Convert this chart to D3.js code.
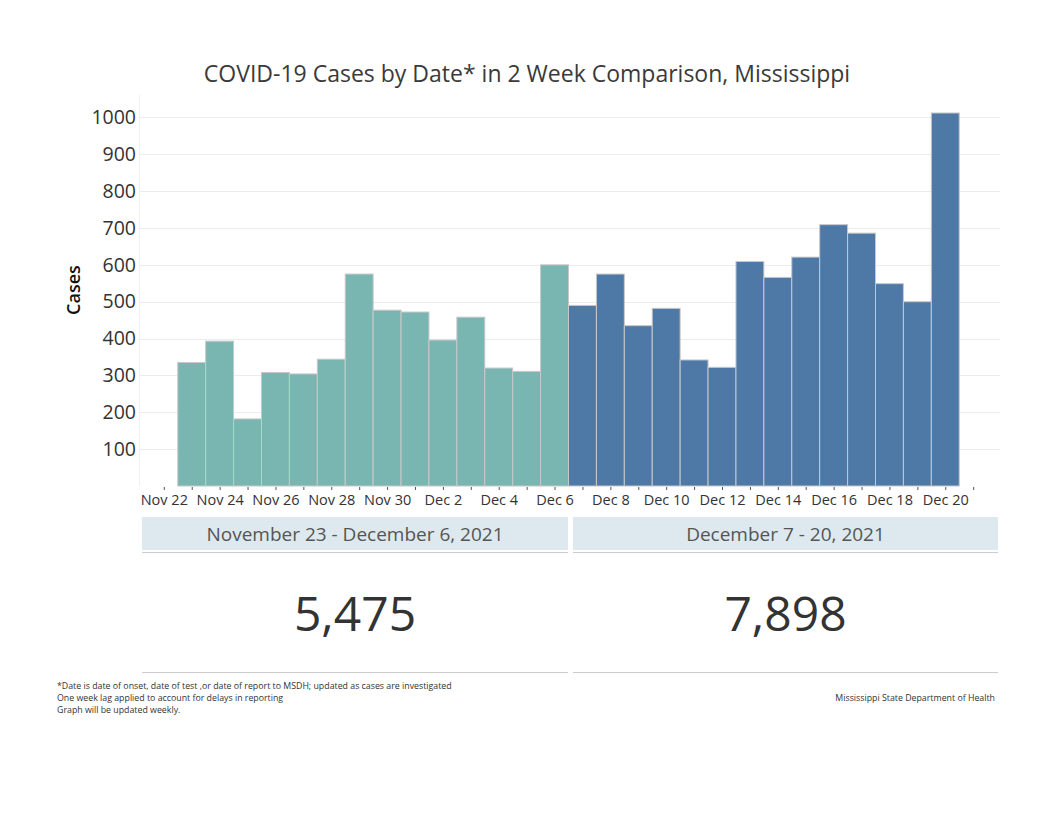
<!DOCTYPE html>
<html>
<head>
<meta charset="utf-8">
<script src="https://cdn.jsdelivr.net/npm/d3@7"></script>
<style>
  html, body { margin: 0; padding: 0; background: #fff; }
  svg { display: block; }
  text { font-family: "Open Sans", "DejaVu Sans", sans-serif; }
</style>
</head>
<body>
<svg id="chart" width="1053" height="813"></svg>
<script>
// ---- Data ----
const period1Dates = ["2021-11-23","2021-11-24","2021-11-25","2021-11-26","2021-11-27","2021-11-28","2021-11-29","2021-11-30","2021-12-01","2021-12-02","2021-12-03","2021-12-04","2021-12-05","2021-12-06"];
const period1Cases = [335, 393, 182, 308, 304, 344, 575, 477, 472, 396, 458, 320, 311, 600];
const period2Dates = ["2021-12-07","2021-12-08","2021-12-09","2021-12-10","2021-12-11","2021-12-12","2021-12-13","2021-12-14","2021-12-15","2021-12-16","2021-12-17","2021-12-18","2021-12-19","2021-12-20"];
const period2Cases = [490, 575, 435, 482, 342, 322, 609, 566, 621, 709, 686, 549, 500, 1012];
const periodLabels = ["November 23 - December 6, 2021", "December 7 - 20, 2021"];
const yTickValues = [100, 200, 300, 400, 500, 600, 700, 800, 900, 1000];
const xTickLabelDates = ["2021-11-22","2021-11-24","2021-11-26","2021-11-28","2021-11-30","2021-12-02","2021-12-04","2021-12-06","2021-12-08","2021-12-10","2021-12-12","2021-12-14","2021-12-16","2021-12-18","2021-12-20"];
const titleText = "COVID-19 Cases by Date* in 2 Week Comparison, Mississippi";
const footnotes = [
  "*Date is date of onset, date of test ,or date of report to MSDH; updated as cases are investigated",
  "One week lag applied to account for delays in reporting",
  "Graph will be updated weekly."
];
const sourceText = "Mississippi State Department of Health";

// ---- Setup ----
const parse = d3.utcParse("%Y-%m-%d");
const fmt = d3.utcFormat("%b %-d");
const svg = d3.select("#chart");
const colors = ["#79B6B2", "#4E79A7"];

const plotLeft = 140, plotRight = 1000, plotTop = 95, plotBottom = 486;

const x = d3.scaleUtc()
  .domain([parse("2021-11-21"), parse("2021-12-22")])
  .range([135.9, 1001.1]);
const y = d3.scaleLinear().domain([0, 1000]).range([plotBottom, 117.4]);

// Title
svg.append("text")
  .attr("x", 527).attr("y", 82)
  .attr("text-anchor", "middle")
  .attr("font-size", 23)
  .attr("fill", "#3a3a3a")
  .text(titleText);

// Gridlines
svg.append("g").selectAll("line")
  .data(yTickValues)
  .join("line")
  .attr("x1", plotLeft).attr("x2", plotRight)
  .attr("y1", d => Math.round(y(d)) + 0.5).attr("y2", d => Math.round(y(d)) + 0.5)
  .attr("stroke", "#ececec").attr("stroke-width", 1);

// left faint axis line
svg.append("line")
  .attr("x1", 139.5).attr("x2", 139.5).attr("y1", plotTop).attr("y2", plotBottom)
  .attr("stroke", "#f0f0f0");

// Y axis
const yAxis = d3.axisLeft(y).tickValues(yTickValues).tickSize(0).tickPadding(0).tickFormat(d3.format("d"));
const yg = svg.append("g").attr("transform", "translate(136,0)").call(yAxis);
yg.select(".domain").remove();
yg.selectAll("text")
  .attr("font-size", 19.5)
  .attr("fill", "#333")
  .attr("font-family", "\"Open Sans\", sans-serif");

// Y title
svg.append("text")
  .attr("transform", "translate(80,290) rotate(-90)")
  .attr("text-anchor", "middle")
  .attr("font-size", 18)
  .attr("font-weight", 600)
  .attr("fill", "#111")
  .text("Cases");

// Bars
const series = [
  { dates: period1Dates, cases: period1Cases, color: colors[0] },
  { dates: period2Dates, cases: period2Cases, color: colors[1] }
];
series.forEach(s => {
  const data = s.dates.map((d, i) => ({ date: parse(d), v: s.cases[i] }));
  svg.append("g").selectAll("rect")
    .data(data)
    .join("rect")
    .attr("x", d => x(d3.utcHour.offset(d.date, -12)))
    .attr("width", d => x(d3.utcHour.offset(d.date, 12)) - x(d3.utcHour.offset(d.date, -12)))
    .attr("y", d => y(d.v))
    .attr("height", d => y(0) - y(d.v))
    .attr("fill", s.color)
    .attr("stroke", "#c8c8c8")
    .attr("stroke-width", 1);
});

// X axis ticks (daily) and labels (every 2 days)
const dayTicks = d3.utcDay.range(parse("2021-11-22"), parse("2021-12-22"));
const xAxisTicks = d3.axisBottom(x).tickValues(dayTicks).tickSize(3).tickFormat("");
const xg = svg.append("g").attr("transform", `translate(0,${plotBottom + 1})`).call(xAxisTicks);
xg.select(".domain").remove();
xg.selectAll("line").attr("stroke", "#555");

const xAxisLabels = d3.axisBottom(x)
  .tickValues(xTickLabelDates.map(parse))
  .tickSize(0).tickPadding(0)
  .tickFormat(fmt);
const xl = svg.append("g").attr("transform", `translate(0,${plotBottom + 9})`).call(xAxisLabels);
xl.select(".domain").remove();
xl.selectAll("text")
  .attr("font-size", 14.5)
  .attr("fill", "#333")
  .attr("font-family", "\"Open Sans\", sans-serif");

// Period panels
const panels = [
  { x0: 142, x1: 568, label: periodLabels[0], total: d3.sum(period1Cases) },
  { x0: 573, x1: 998, label: periodLabels[1], total: d3.sum(period2Cases) }
];
const totalFmt = d3.format(",");
panels.forEach(p => {
  const cx = (p.x0 + p.x1) / 2;
  svg.append("rect")
    .attr("x", p.x0).attr("y", 517)
    .attr("width", p.x1 - p.x0).attr("height", 33)
    .attr("fill", "#DDE9EF");
  svg.append("text")
    .attr("x", cx).attr("y", 541)
    .attr("text-anchor", "middle")
    .attr("font-size", 19)
    .attr("fill", "#555")
    .text(p.label);
  svg.append("line")
    .attr("x1", p.x0).attr("x2", p.x1).attr("y1", 552.5).attr("y2", 552.5)
    .attr("stroke", "#cccccc");
  svg.append("text")
    .attr("x", cx).attr("y", 631)
    .attr("text-anchor", "middle")
    .attr("font-size", 48)
    .attr("fill", "#333")
    .text(totalFmt(p.total));
  svg.append("line")
    .attr("x1", p.x0).attr("x2", p.x1).attr("y1", 672.5).attr("y2", 672.5)
    .attr("stroke", "#cccccc");
});

// Footnotes
svg.append("g").selectAll("text")
  .data(footnotes)
  .join("text")
  .attr("x", 57)
  .attr("y", (d, i) => 689 + i * 12)
  .attr("font-size", 8.8)
  .attr("fill", "#333")
  .text(d => d);

svg.append("text")
  .attr("x", 995).attr("y", 701)
  .attr("text-anchor", "end")
  .attr("font-size", 8.8)
  .attr("fill", "#333")
  .text(sourceText);
</script>
</body>
</html>
